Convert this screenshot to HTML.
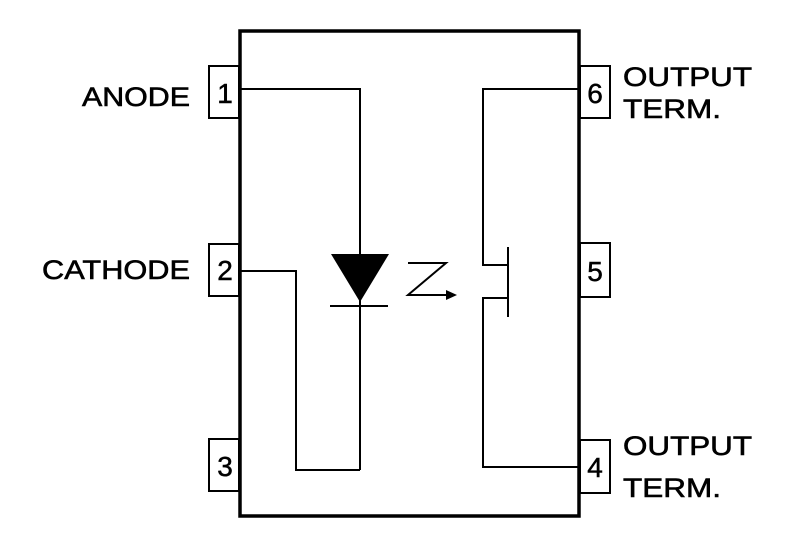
<!DOCTYPE html>
<html><head><style>body{margin:0;background:#fff}</style></head><body>
<svg width="800" height="534" viewBox="0 0 800 534" xmlns="http://www.w3.org/2000/svg" font-family="Liberation Sans, sans-serif">
<rect width="800" height="534" fill="#fff"/>
<g fill="none" stroke="#000">
<rect x="240" y="31" width="339" height="485" stroke-width="3.5"/>
<g stroke-width="2">
<rect x="209" y="66" width="30" height="52" fill="#fff"/>
<rect x="209" y="244" width="30" height="52" fill="#fff"/>
<rect x="209" y="439" width="30" height="52" fill="#fff"/>
<rect x="580" y="66" width="30" height="52" fill="#fff"/>
<rect x="580" y="243" width="30" height="54" fill="#fff"/>
<rect x="580" y="440" width="30" height="53" fill="#fff"/>
<polyline points="241,89 360,89 360,256"/>
<line x1="360" y1="300" x2="360" y2="470"/>
<polyline points="241,271 296,271 296,470 360,470"/>
<line x1="330" y1="306" x2="388" y2="306"/>
<polyline points="578,89 483,89 483,265 508,265"/>
<polyline points="578,467 483,467 483,298 508,298"/>
<line x1="508" y1="247" x2="508" y2="317"/>
<polyline points="408,263 446,263 408,295 446,295"/>
</g>
</g>
<polygon points="331,254 389,254 360,302" fill="#000"/>
<polygon points="446,290 457,295 446,300" fill="#000"/>
<g font-size="28" text-anchor="middle" fill="#000" stroke="#000" stroke-width="0.5">
<text x="225" y="103">1</text>
<text x="225" y="280">2</text>
<text x="225" y="476">3</text>
<text x="595" y="103">6</text>
<text x="595" y="281">5</text>
<text x="595" y="477">4</text>
</g>
<g font-size="27" fill="#000" stroke="#000" stroke-width="0.6">
<text x="82" y="106" textLength="108" lengthAdjust="spacingAndGlyphs">ANODE</text>
<text x="42" y="279" textLength="148" lengthAdjust="spacingAndGlyphs">CATHODE</text>
<text x="623" y="86" textLength="129" lengthAdjust="spacingAndGlyphs">OUTPUT</text>
<text x="623" y="118" textLength="98" lengthAdjust="spacingAndGlyphs">TERM.</text>
<text x="623" y="455" textLength="129" lengthAdjust="spacingAndGlyphs">OUTPUT</text>
<text x="623" y="497" textLength="98" lengthAdjust="spacingAndGlyphs">TERM.</text>
</g>
</svg>
</body></html>
